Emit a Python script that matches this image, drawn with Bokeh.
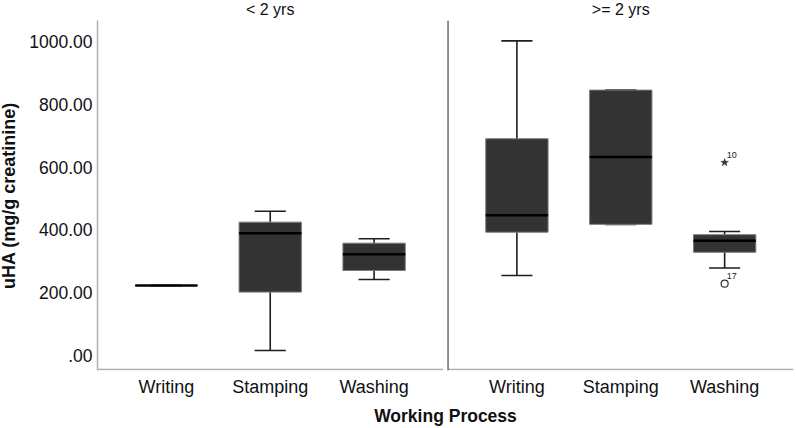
import math
from bokeh.plotting import figure
from bokeh.models import Range1d, FixedTicker, Label, ColumnDataSource, LinearAxis, Span
from bokeh.embed import file_html
from bokeh.resources import INLINE

# ---------------- data ----------------
groups = ["< 2 yrs", ">= 2 yrs"]
processes = ["Writing", "Stamping", "Washing"]

# rows = groups, columns = processes
lower_whisker = [[223, 16, 242], [255, 418, 279]]
q1 = [[223, 202, 271], [393, 418, 329]]
median = [[223, 390, 323], [447, 633, 366]]
q3 = [[223, 425, 358], [691, 846, 385]]
upper_whisker = [[223, 460, 372], [1003, 846, 395]]

outlier_group = [">= 2 yrs", ">= 2 yrs"]
outlier_process = ["Washing", "Washing"]
outlier_value = [229, 615]
outlier_case = ["17", "10"]
outlier_kind = ["circle", "star"]

y_ticks = [0, 200, 400, 600, 800, 1000]
y_tick_labels = [".00", "200.00", "400.00", "600.00", "800.00", "1000.00"]

y_title = "uHA (mg/g creatinine)"
x_title = "Working Process"

# ---------------- layout constants ----------------
FONT = "Liberation Sans"
PAD = 0.663      # space between panel edge and first/last category
GAP = 0.049      # gap between the two panels
BOX_W = 0.6
CAP_W = 0.3
n_proc = len(processes)
panel_step = (n_proc - 1) + 2 * PAD + GAP


def pos(g, k):
    return g * panel_step + k + 1


x_start = pos(0, 0) - PAD
x_end = pos(len(groups) - 1, n_proc - 1) + PAD
y_start, y_end = -48, 1068
axis_y = -45

p = figure(width=801, height=434, output_backend="svg", toolbar_location=None,
           x_range=Range1d(x_start, x_end), y_range=Range1d(y_start, y_end),
           min_border_left=102, min_border_right=3, min_border_top=26,
           min_border_bottom=58)
p.margin = (-6, 0, 0, -5)
p.outline_line_color = None
p.xgrid.visible = False
p.ygrid.visible = False
p.background_fill_color = "white"
p.border_fill_color = "white"

# y axis
yax = p.yaxis[0]
yax.ticker = FixedTicker(ticks=y_ticks)
yax.major_label_overrides = {t: l for t, l in zip(y_ticks, y_tick_labels)}
yax.axis_line_color = "#b0b0b0"
yax.axis_line_width = 1.5
yax.major_tick_line_color = None
yax.minor_tick_line_color = None
yax.major_tick_out = 0
yax.major_label_standoff = 5
yax.major_label_text_font = FONT
yax.major_label_text_font_size = "17.5px"
yax.major_label_text_color = "#111111"
yax.axis_label = y_title
yax.axis_label_standoff = 7
yax.axis_label_text_font = FONT
yax.axis_label_text_font_size = "18px"
yax.axis_label_text_font_style = "bold"
yax.axis_label_text_color = "#111111"

# x axis (categories)
xs_ticks = [pos(g, k) for g in range(len(groups)) for k in range(n_proc)]
xs_labels = [processes[k] for g in range(len(groups)) for k in range(n_proc)]
xax = p.xaxis[0]
xax.ticker = FixedTicker(ticks=xs_ticks)
xax.major_label_overrides = {t: l for t, l in zip(xs_ticks, xs_labels)}
xax.axis_line_color = None
xax.major_tick_line_color = None
xax.minor_tick_line_color = None
xax.major_tick_out = 0
xax.major_label_standoff = 6
xax.major_label_text_font = FONT
xax.major_label_text_font_size = "18px"
xax.major_label_text_color = "#111111"
xax.axis_label = x_title
xax.axis_label_standoff = 6
xax.axis_label_text_font = FONT
xax.axis_label_text_font_size = "17.5px"
xax.axis_label_text_font_style = "bold"
xax.axis_label_text_color = "#111111"

# panel headers (top axis)
g_ticks = [pos(g, (n_proc - 1) / 2) for g in range(len(groups))]
top = LinearAxis(ticker=FixedTicker(ticks=g_ticks),
                 major_label_overrides={t: l for t, l in zip(g_ticks, groups)},
                 axis_line_color=None, major_tick_line_color=None,
                 minor_tick_line_color=None, major_tick_out=0,
                 major_label_standoff=3, major_label_text_font=FONT,
                 major_label_text_font_size="16px",
                 major_label_text_color="#111111")
p.add_layout(top, "above")

# panel frame lines
p.segment(x0=[pos(g, 0) - PAD for g in range(len(groups))],
          x1=[pos(g, n_proc - 1) + PAD for g in range(len(groups))],
          y0=[axis_y] * len(groups), y1=[axis_y] * len(groups),
          line_color="#ababab", line_width=1.5)
for g in range(1, len(groups)):
    p.add_layout(Span(location=pos(g, 0) - PAD, dimension="height",
                      line_color="#6b6b6b", line_width=1.5))

# box data
rows = dict(x=[], lo=[], q1=[], med=[], q3=[], hi=[])
for g in range(len(groups)):
    for k in range(n_proc):
        rows["x"].append(pos(g, k))
        rows["lo"].append(lower_whisker[g][k])
        rows["q1"].append(q1[g][k])
        rows["med"].append(median[g][k])
        rows["q3"].append(q3[g][k])
        rows["hi"].append(upper_whisker[g][k])
rows["xl"] = [x - BOX_W / 2 for x in rows["x"]]
rows["xr"] = [x + BOX_W / 2 for x in rows["x"]]
rows["cl"] = [x - CAP_W / 2 for x in rows["x"]]
rows["cr"] = [x + CAP_W / 2 for x in rows["x"]]
src = ColumnDataSource(rows)

p.segment(x0="x", y0="lo", x1="x", y1="hi", source=src,
          line_color="#1e1e1e", line_width=1.6)
p.segment(x0="cl", y0="lo", x1="cr", y1="lo", source=src,
          line_color="#1e1e1e", line_width=1.6)
p.segment(x0="cl", y0="hi", x1="cr", y1="hi", source=src,
          line_color="#1e1e1e", line_width=1.6)
p.vbar(x="x", width=BOX_W, bottom="q1", top="q3", source=src,
       fill_color="#333333", line_color="#7a7a7a", line_width=1)
p.segment(x0="xl", y0="med", x1="xr", y1="med", source=src,
          line_color="#000000", line_width=2.5)

# outliers
ox = [pos(groups.index(g), processes.index(pr)) for g, pr in zip(outlier_group, outlier_process)]
osrc_c = ColumnDataSource(dict(
    x=[x for x, k in zip(ox, outlier_kind) if k == "circle"],
    y=[v for v, k in zip(outlier_value, outlier_kind) if k == "circle"]))
osrc_s = ColumnDataSource(dict(
    x=[x for x, k in zip(ox, outlier_kind) if k == "star"],
    y=[v for v, k in zip(outlier_value, outlier_kind) if k == "star"]))
p.scatter(x="x", y="y", source=osrc_c, marker="circle", size=7,
          fill_color=None, line_color="#333333", line_width=1.2)
p.scatter(x="x", y="y", source=osrc_s, marker="star", size=8,
          fill_color="#333333", line_color="#333333", line_width=0.5)
for x, v, c in zip(ox, outlier_value, outlier_case):
    p.add_layout(Label(x=x, y=v, text=c, x_offset=2, y_offset=8,
                       text_font=FONT, text_font_size="9px",
                       text_color="#222222", text_align="left",
                       text_baseline="middle"))

open("out.html", "w").write(file_html(p, INLINE))
